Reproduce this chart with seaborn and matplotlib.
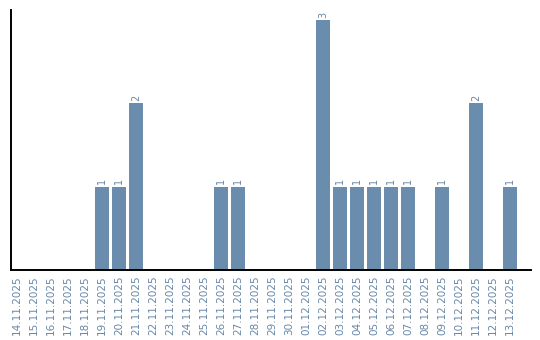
import matplotlib
matplotlib.use("Agg")
import matplotlib.pyplot as plt
import seaborn as sns
import pandas as pd

dates = ["14.11.2025", "15.11.2025", "16.11.2025", "17.11.2025", "18.11.2025",
         "19.11.2025", "20.11.2025", "21.11.2025", "22.11.2025", "23.11.2025",
         "24.11.2025", "25.11.2025", "26.11.2025", "27.11.2025", "28.11.2025",
         "29.11.2025", "30.11.2025", "01.12.2025", "02.12.2025", "03.12.2025",
         "04.12.2025", "05.12.2025", "06.12.2025", "07.12.2025", "08.12.2025",
         "09.12.2025", "10.12.2025", "11.12.2025", "12.12.2025", "13.12.2025"]
counts = [0, 0, 0, 0, 0,
          1, 1, 2, 0, 0,
          0, 0, 1, 1, 0,
          0, 0, 0, 3, 1,
          1, 1, 1, 1, 0,
          1, 0, 2, 0, 1]

bar_color = "#6a8cad"
text_color = "#6787a9"

sns.set_theme(style="white")
plt.rcParams['font.family'] = ['DejaVu Sans']

df = pd.DataFrame({"date": dates, "count": counts})

fig = plt.figure(figsize=(5.4, 3.4), dpi=100)
ax = fig.add_axes([10.5 / 540, (340 - 270) / 340, (531 - 10.5) / 540, (270 - 10) / 340])

sns.barplot(data=df, x="date", y="count", color=bar_color, width=0.82,
            saturation=1, linewidth=0, ax=ax)

for i, v in enumerate(counts):
    if v > 0:
        ax.text(i, v + 0.03, str(v), rotation=90, ha="center", va="bottom",
                fontsize=7, color=text_color)

ax.set_xlim(-0.38, 30.24)
ax.set_ylim(0, 3.12)
ax.set_xlabel("")
ax.set_ylabel("")
ax.set_yticks([])
ax.set_xticks(range(len(dates)))
ax.set_xticklabels(dates, rotation=90, fontsize=7.5, color=text_color)
ax.tick_params(axis="x", length=0, pad=4)

for s in ["top", "right"]:
    ax.spines[s].set_visible(False)
for s in ["left", "bottom"]:
    ax.spines[s].set_color("black")
    ax.spines[s].set_linewidth(1.4)

fig.savefig("out.png", dpi=100)
